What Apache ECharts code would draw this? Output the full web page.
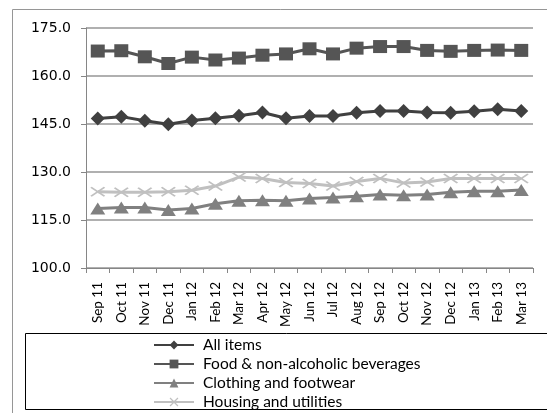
<!DOCTYPE html>
<html>
<head>
<meta charset="utf-8">
<script src="https://cdn.jsdelivr.net/npm/echarts@6/dist/echarts.min.js"></script>
<style>html,body{margin:0;padding:0;background:#fff;}#c{width:547px;height:413px;}</style>
</head>
<body>
<div id="c"></div>
<script>
const categories = ['Sep 11','Oct 11','Nov 11','Dec 11','Jan 12','Feb 12','Mar 12','Apr 12','May 12','Jun 12','Jul 12','Aug 12','Sep 12','Oct 12','Nov 12','Dec 12','Jan 13','Feb 13','Mar 13'];
const allItems = [146.7,147.3,146.0,144.9,146.1,146.8,147.6,148.6,146.8,147.5,147.5,148.5,149.1,149.1,148.6,148.5,149.0,149.6,149.1];
const foodBev = [167.8,167.9,166.0,163.9,165.9,165.0,165.6,166.5,166.9,168.5,166.9,168.7,169.2,169.2,168.0,167.7,168.0,168.1,168.0];
const clothing = [118.6,118.9,118.9,118.1,118.6,120.1,121.0,121.2,121.0,121.7,122.0,122.4,123.0,122.7,123.0,123.7,124.0,124.0,124.4];
const housing = [123.8,123.7,123.7,123.8,124.3,125.6,128.4,128.0,126.7,126.4,125.6,127.0,128.0,126.6,126.9,128.0,128.0,128.0,128.0];
const seriesNames = ['All items','Food & non-alcoholic beverages','Clothing and footwear','Housing and utilities'];
const yTicks = {min:100, max:175, interval:15};

const crossPath = 'path://M0,1L1,0L5,4L9,0L10,1L6,5L10,9L9,10L5,6L1,10L0,9L4,5Z';
const font = 'Lato, "Open Sans", sans-serif';
const chart = echarts.init(document.getElementById('c'));
chart.setOption({
  animation:false,
  backgroundColor:'#fff',
  graphic:[
    {type:'rect', shape:{x:12.5,y:9.5,width:560,height:420}, style:{fill:'none',stroke:'#969696',lineWidth:1}, silent:true, z:-1},
    {type:'rect', shape:{x:25.5,y:333.5,width:560,height:76}, style:{fill:'#fff',stroke:'#000',lineWidth:1}, silent:true, z:-1}
  ],
  grid:{left:86, right:14, top:28, bottom:145},
  legend:{
    orient:'vertical', left:153, top:337, padding:0, height:100, width:390,
    itemWidth:40, itemHeight:11, itemGap:3,
    textStyle:{fontFamily:font, fontSize:15.5, lineHeight:16, color:'#000', padding:[0,0,0,4]},
    data:seriesNames
  },
  xAxis:{
    type:'category', data:categories, boundaryGap:true,
    axisLine:{lineStyle:{color:'#868686', width:1}},
    axisTick:{show:true, alignWithLabel:false, length:5, lineStyle:{color:'#868686'}},
    axisLabel:{rotate:90, interval:0, fontFamily:font, fontSize:13.5, color:'#000', margin:14}
  },
  yAxis:{
    type:'value', min:yTicks.min, max:yTicks.max, interval:yTicks.interval,
    axisLine:{show:true, lineStyle:{color:'#868686'}},
    axisTick:{show:true, length:5, lineStyle:{color:'#868686'}},
    splitLine:{lineStyle:{color:'#969696', width:1.5}},
    axisLabel:{fontFamily:'"DejaVu Sans", sans-serif', fontSize:14, color:'#000', margin:15, formatter:v=>v.toFixed(1)}
  },
  series:[
    {name:seriesNames[0], type:'line', data:allItems, symbol:'diamond', symbolSize:[14,14],
     lineStyle:{color:'#404040', width:3}, itemStyle:{color:'#404040'}},
    {name:seriesNames[1], type:'line', data:foodBev, symbol:'rect', symbolSize:[14,13],
     lineStyle:{color:'#555555', width:3}, itemStyle:{color:'#555555'}},
    {name:seriesNames[2], type:'line', data:clothing, symbol:'triangle', symbolSize:[15,12],
     lineStyle:{color:'#808080', width:3}, itemStyle:{color:'#808080'}},
    {name:seriesNames[3], type:'line', data:housing, symbol:crossPath, symbolSize:[15,10], z:1,
     lineStyle:{color:'#c0c0c0', width:3}, itemStyle:{color:'#c0c0c0'}}
  ]
});
</script>
</body>
</html>
